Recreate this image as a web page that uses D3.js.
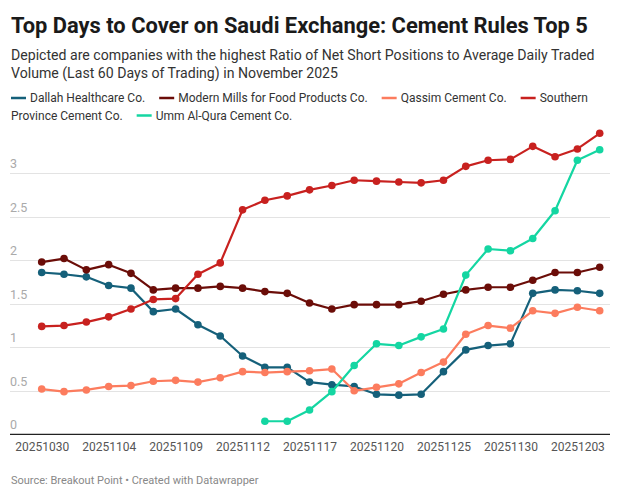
<!DOCTYPE html>
<html>
<head>
<meta charset="utf-8">
<script src="https://cdn.jsdelivr.net/npm/d3@7"></script>
<style>
  html, body { margin: 0; padding: 0; background: #fff; }
  svg { display: block; font-family: Roboto, "Noto Sans", sans-serif; }
</style>
</head>
<body>
<svg id="chart" width="620" height="498"></svg>
<script>
const dates = ["20251030","20251102","20251103","20251104","20251105","20251106","20251109","20251110","20251111","20251112","20251113","20251116","20251117","20251118","20251119","20251120","20251123","20251124","20251125","20251126","20251127","20251130","20251201","20251202","20251203","20251204"];
const tickLabels = ["20251030","20251104","20251109","20251112","20251117","20251120","20251125","20251130","20251203"];
const yTicks = [0, 0.5, 1, 1.5, 2, 2.5, 3];

const seriesNames = ["Dallah Healthcare Co.", "Modern Mills for Food Products Co.", "Qassim Cement Co.", "Southern Province Cement Co.", "Umm Al-Qura Cement Co."];
const seriesColors = ["#15607a", "#6b0d08", "#fc7c5e", "#c8211f", "#14d6a2"];

const dallah      = [1.86,1.84,1.81,1.71,1.68,1.41,1.44,1.26,1.13,0.90,0.77,0.77,0.60,0.57,0.55,0.46,0.45,0.46,0.72,0.97,1.02,1.04,1.62,1.66,1.65,1.62];
const modernMills = [1.98,2.02,1.89,1.95,1.85,1.66,1.68,1.68,1.70,1.68,1.64,1.62,1.51,1.44,1.49,1.49,1.49,1.53,1.61,1.66,1.69,1.69,1.77,1.86,1.86,1.92];
const qassim      = [0.52,0.49,0.51,0.55,0.56,0.61,0.62,0.60,0.65,0.72,0.71,0.72,0.73,0.75,0.50,0.54,0.58,0.71,0.83,1.15,1.25,1.22,1.42,1.39,1.46,1.42];
const southern    = [1.24,1.25,1.29,1.35,1.44,1.55,1.56,1.84,1.97,2.58,2.69,2.74,2.81,2.86,2.92,2.91,2.90,2.89,2.92,3.08,3.15,3.16,3.31,3.19,3.28,3.46];
const ummAlQura   = [null,null,null,null,null,null,null,null,null,null,0.15,0.15,0.28,0.49,0.79,1.04,1.02,1.12,1.21,1.83,2.13,2.11,2.25,2.57,3.15,3.27];

const seriesValues = [dallah, modernMills, qassim, southern, ummAlQura];

const svg = d3.select("#chart");

// Title
const title = svg.append("text")
  .attr("x", 11).attr("y", 33)
  .attr("fill", "#1a1a1a")
  .style("font-size", "22px").style("font-weight", 700)
  .text("Top Days to Cover on Saudi Exchange: Cement Rules Top 5");
(function fit(t, w) {
  const n = t.node(); const cur = n.getComputedTextLength();
  const fs = parseFloat(t.style("font-size"));
  t.style("font-size", (fs * w / cur).toFixed(2) + "px");
})(title, 577);

// Subtitle
const sub1 = svg.append("text").attr("x", 11).attr("y", 60).attr("fill", "#333")
  .style("font-size", "14.5px")
  .text("Depicted are companies with the highest Ratio of Net Short Positions to Average Daily Traded");
const sub2 = svg.append("text").attr("x", 11).attr("y", 78).attr("fill", "#333")
  .style("font-size", "14.5px")
  .text("Volume (Last 60 Days of Trading) in November 2025");
{
  const cur = sub1.node().getComputedTextLength();
  const fs = 14.5 * 584 / cur;
  sub1.style("font-size", fs.toFixed(2) + "px");
  sub2.style("font-size", fs.toFixed(2) + "px");
}

// Legend (flowing layout)
{
  const g = svg.append("g");
  const fsz = "12px";
  const maxX = 600, startX = 11, rowH = 17.5;
  let x = startX, y = 102;
  const measure = g.append("text").style("font-size", fsz).attr("visibility", "hidden");
  const wordW = s => { measure.text(s); return measure.node().getComputedTextLength(); };
  seriesNames.forEach((name, i) => {
    if (x + 18 > maxX) { x = startX; y += rowH; }
    g.append("line").attr("x1", x).attr("x2", x + 15).attr("y1", y - 4).attr("y2", y - 4)
      .attr("stroke", seriesColors[i]).attr("stroke-width", 2.5);
    x += 19;
    const words = name.split(" ");
    let line = "", lineX = x;
    words.forEach(w => {
      const test = line ? line + " " + w : w;
      if (lineX + wordW(test) > maxX && line) {
        g.append("text").attr("x", lineX).attr("y", y).attr("fill", "#333").style("font-size", fsz).text(line);
        y += rowH; lineX = startX; line = w;
      } else line = test;
    });
    g.append("text").attr("x", lineX).attr("y", y).attr("fill", "#333").style("font-size", fsz).text(line);
    x = lineX + wordW(line) + 14;
  });
  measure.remove();
}

// Scales
const x = d3.scalePoint().domain(dates).range([41.7, 599.7]);
const y = d3.scaleLinear().domain([0, 3.5]).range([434.3, 129.8]);
const plotL = 10, plotR = 610;

// Gridlines & y labels
const grid = svg.append("g");
yTicks.forEach(t => {
  if (t !== 0) {
    grid.append("line").attr("x1", plotL).attr("x2", plotR)
      .attr("y1", Math.round(y(t)) + 0.5).attr("y2", Math.round(y(t)) + 0.5)
      .attr("stroke", "#e3e3e3").attr("stroke-width", 1);
  }
  grid.append("text").attr("x", plotL).attr("y", y(t) - 5)
    .attr("fill", "#aaaaaa").style("font-size", "12.5px")
    .text(d3.format("~g")(t));
});

// X axis
const xAxis = d3.axisBottom(x).tickValues(tickLabels).tickSize(0).tickPadding(8);
const xg = svg.append("g").attr("transform", `translate(0,${y(0)})`).call(xAxis);
xg.select(".domain").remove();
xg.selectAll("text").attr("fill", "#555").style("font-size", "12px").style("font-family", "Roboto, sans-serif");

// Baseline
svg.append("line").attr("x1", plotL).attr("x2", plotR)
  .attr("y1", y(0)).attr("y2", y(0)).attr("stroke", "#222").attr("stroke-width", 1.3);

// Lines & dots
const lineGen = d3.line()
  .defined(d => d.v !== null)
  .x(d => x(d.date)).y(d => y(d.v));

seriesValues.forEach((vals, i) => {
  const data = vals.map((v, k) => ({ date: dates[k], v }));
  const g = svg.append("g");
  g.append("path").datum(data).attr("d", lineGen)
    .attr("fill", "none").attr("stroke", seriesColors[i]).attr("stroke-width", 2.2)
    .attr("stroke-linejoin", "round");
  g.selectAll("circle").data(data.filter(d => d.v !== null)).enter().append("circle")
    .attr("cx", d => x(d.date)).attr("cy", d => y(d.v)).attr("r", 3.8)
    .attr("fill", seriesColors[i]);
});

// Source
svg.append("text").attr("x", 11).attr("y", 484).attr("fill", "#888")
  .style("font-size", "11px")
  .text("Source: Breakout Point • Created with Datawrapper");
</script>
</body>
</html>
